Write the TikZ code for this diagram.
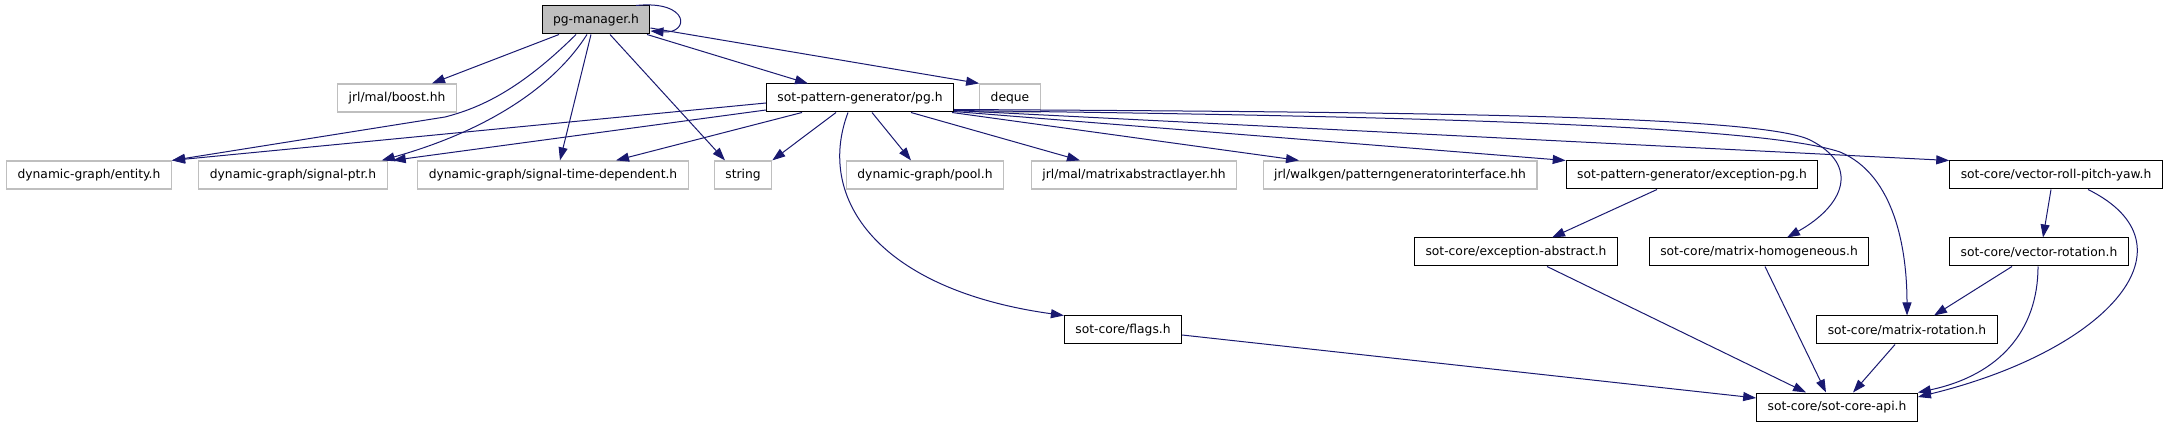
\documentclass[tikz,border=0pt]{standalone}
\usepackage{fontspec}
\setmainfont{DejaVu Sans}
\usetikzlibrary{arrows.meta}
\definecolor{edgeblue}{HTML}{191970}
\definecolor{boxgray}{HTML}{BFBFBF}

\begin{document}
\begin{tikzpicture}[x=1pt, y=-1pt,
        file/.style={draw=black, line width=1pt, minimum height=28pt, inner xsep=11pt, inner ysep=0pt,
            font=\fontsize{12.3}{14}\selectfont},
        extfile/.style={file, draw=boxgray, line width=1.2pt},
        mainfile/.style={file, fill=boxgray},
        dep/.style={draw=edgeblue, line width=1pt, -{Triangle[length=13pt,width=9pt]}, fill=none}]
            \useasboundingbox (0,0) rectangle (2168,427);

            \node[mainfile] (mgr) at (596,20) {pg-manager.h};
            \node[extfile] (boost) at (397,98) {jrl/mal/boost.hh};
            \node[file] (pg) at (860,98) {sot-pattern-generator/pg.h};
            \node[extfile] (deque) at (1010,98) {deque};

            \node[extfile] (entity) at (89,175) {dynamic-graph/entity.h};
            \node[extfile] (sigptr) at (293,175) {dynamic-graph/signal-ptr.h};
            \node[extfile] (sigtime) at (553,175) {dynamic-graph/signal-time-dependent.h};
            \node[extfile] (str) at (743,175) {string};
            \node[extfile] (pool) at (925,175) {dynamic-graph/pool.h};
            \node[extfile] (matabs) at (1134,175) {jrl/mal/matrixabstractlayer.hh};
            \node[extfile] (pgi) at (1400,175) {jrl/walkgen/patterngeneratorinterface.hh};
            \node[file] (excpg) at (1692,175) {sot-pattern-generator/exception-pg.h};
            \node[file] (rpy) at (2056,175) {sot-core/vector-roll-pitch-yaw.h};

            \node[file] (excabs) at (1516,252) {sot-core/exception-abstract.h};
            \node[file] (mathom) at (1759,252) {sot-core/matrix-homogeneous.h};
            \node[file] (vecrot) at (2039,252) {sot-core/vector-rotation.h};

            \node[file] (flags) at (1123,330) {sot-core/flags.h};
            \node[file] (matrot) at (1907,330) {sot-core/matrix-rotation.h};

            \node[file] (api) at (1837,407) {sot-core/sot-core-api.h};

            % pg-manager.h
            \draw[dep] ([xshift=40pt]mgr.north) .. controls (690,0) and (690,34) .. ([yshift=-11pt]mgr.east);
            \draw[dep] ([xshift=-37pt]mgr.south) -- ([xshift=35pt]boost.north);
            \draw[dep] ([xshift=-20pt]mgr.south) .. controls (520,90) and (480,108) .. (445,117) -- (entity.north east);
            \draw[dep] ([xshift=-9pt]mgr.south) .. controls (555,85) and (490,130) .. ([xshift=-6pt]sigptr.north east);
            \draw[dep] ([xshift=-5pt]mgr.south) -- ([xshift=7pt]sigtime.north);
            \draw[dep] ([xshift=14pt]mgr.south) -- ([xshift=-18pt]str.north);
            \draw[dep] ([xshift=51pt]mgr.south) -- ([xshift=-52pt]pg.north);
            \draw[dep] ([yshift=-8pt]mgr.east) -- (deque.north west);

            % pg.h
            \draw[dep] ([yshift=-5pt]pg.west) -- (entity.north east);
            \draw[dep] ([yshift=-12pt]pg.west) -- ([xshift=5pt]sigptr.north east);
            \draw[dep] ([xshift=-58pt]pg.south) -- ([xshift=63pt]sigtime.north);
            \draw[dep] ([xshift=-24pt]pg.south) -- (str.north east);
            \draw[dep] ([xshift=-12pt]pg.south) .. controls (815,200) and (880,290) .. (flags.north west);
            \draw[dep] ([xshift=12pt]pg.south) -- ([xshift=-14pt]pool.north);
            \draw[dep] ([xshift=51pt]pg.south) -- ([xshift=-54pt]matabs.north);
            \draw[dep] ([xshift=-2pt]pg.south east) -- ([xshift=-101pt]pgi.north);
            \draw[dep] ([yshift=1pt]pg.south east) -- (excpg.north west);
            \draw[dep] ([yshift=2pt]pg.south east) -- (rpy.north west);
            \draw[dep] ([yshift=3pt]pg.south east) .. controls (1400,112) and (1760,115) .. (1810,140)
                .. controls (1860,165) and (1845,205) .. ([xshift=28pt]mathom.north);
            \draw[dep] ([yshift=2pt]pg.south east) .. controls (1400,116) and (1760,125) .. (1840,152)
                .. controls (1895,175) and (1907,250) .. (matrot.north);

            % sot-core
            \draw[dep] ([xshift=-35pt]excpg.south) -- ([xshift=36pt]excabs.north);
            \draw[dep] ([xshift=-5pt]rpy.south) -- ([xshift=4pt]vecrot.north);
            \draw[dep] ([xshift=32pt]rpy.south) .. controls (2200,245) and (2110,350) .. ([yshift=10pt]api.east);
            \draw[dep] ([xshift=-27pt]vecrot.south) -- ([xshift=27pt]matrot.north);
            \draw[dep] ([xshift=-1pt]vecrot.south) .. controls (2038,330) and (2000,375) .. (api.north east);
            \draw[dep] ([xshift=31pt]excabs.south) -- ([xshift=-31pt]api.north);
            \draw[dep] ([xshift=6pt]mathom.south) -- ([xshift=-11pt]api.north);
            \draw[dep] ([xshift=-12pt]matrot.south) -- ([xshift=16pt]api.north);
            \draw[dep] ([yshift=-5pt]flags.east) -- ([yshift=9pt]api.west);
        \end{tikzpicture}
\end{document}
